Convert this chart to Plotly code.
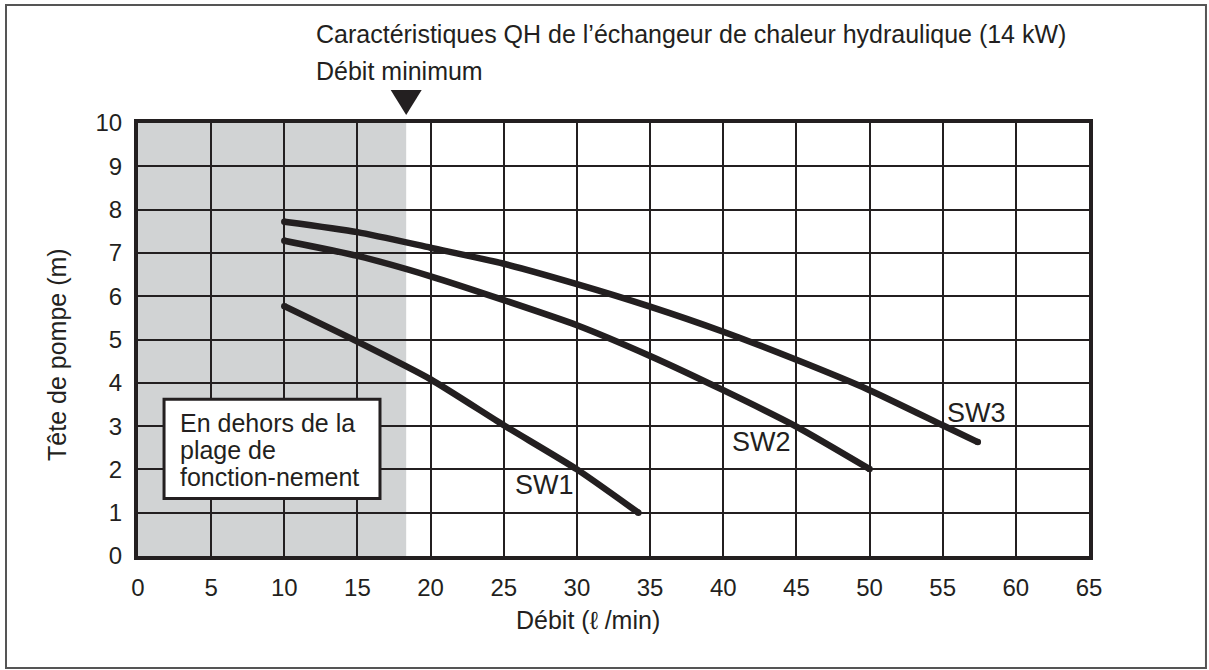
import plotly.graph_objects as go

# ---- data ----
sw1_x = [10, 15, 20, 25, 30, 34.2]
sw1_y = [5.77, 4.95, 4.08, 3.02, 2.0, 1.0]
sw2_x = [10, 15, 20, 25, 30, 35, 40, 45, 50]
sw2_y = [7.28, 6.93, 6.46, 5.91, 5.33, 4.62, 3.83, 2.99, 2.01]
sw3_x = [10, 15, 20, 25, 30, 35, 40, 45, 50, 55, 57.4]
sw3_y = [7.72, 7.48, 7.12, 6.75, 6.28, 5.76, 5.18, 4.53, 3.83, 3.02, 2.63]
series_names = ["SW1", "SW2", "SW3"]
label_x = [27.75, 42.63, 57.33]
label_y = [1.64, 2.64, 3.31]
min_flow = 18.33
x_ticks = list(range(0, 66, 5))
y_ticks = list(range(0, 11, 1))

title_text = "Caractéristiques QH de l’échangeur de chaleur hydraulique (14 kW)"
min_text = "Débit minimum"
box_lines = ["En dehors de la", "plage de", "fonction-nement"]
box_line_y = [3.07, 2.45, 1.83]
x_title = "Débit (ℓ /min)"
y_title = "Tête de pompe (m)"

INK = "#231f20"
GRAY = "#d1d3d4"
FONT = "Arial, Liberation Sans, sans-serif"

fig = go.Figure()

for xs, ys in [(sw1_x, sw1_y), (sw2_x, sw2_y), (sw3_x, sw3_y)]:
    fig.add_trace(go.Scatter(
        x=xs, y=ys, mode="lines",
        line=dict(color=INK, width=6.5, shape="spline", smoothing=0.6),
        showlegend=False, hoverinfo="skip"))
    # round end caps
    fig.add_trace(go.Scatter(
        x=[xs[0], xs[-1]], y=[ys[0], ys[-1]], mode="markers",
        marker=dict(color=INK, size=6.5, line=dict(width=0)),
        showlegend=False, hoverinfo="skip"))

# gray out-of-range region
fig.add_shape(type="rect", xref="x", yref="y", x0=0, x1=min_flow, y0=0, y1=10,
              fillcolor=GRAY, line=dict(width=0), layer="below")

# minimum-flow triangle (anchored at min_flow, just above the plot)
fig.add_shape(type="path", xref="x", yref="paper",
              xsizemode="pixel", ysizemode="pixel",
              xanchor=min_flow, yanchor=1.0762,
              path="M-15.5,0 L15.5,0 L0,-25 Z",
              fillcolor=INK, line=dict(width=0))

# box
fig.add_shape(type="rect", xref="x", yref="y", x0=1.78, x1=16.54, y0=1.33, y1=3.62,
              fillcolor="white", line=dict(color=INK, width=3), layer="above")
for txt, yy in zip(box_lines, box_line_y):
    fig.add_annotation(x=2.73, y=yy, xref="x", yref="y", text=txt,
                       showarrow=False, xanchor="left", yanchor="middle", align="left",
                       font=dict(family=FONT, size=25, color=INK))

# curve labels
for name, lx, ly in zip(series_names, label_x, label_y):
    fig.add_annotation(x=lx, y=ly, xref="x", yref="y", text=name, showarrow=False,
                       xanchor="center", yanchor="middle",
                       font=dict(family=FONT, size=27, color=INK))

# title and min flow text
fig.add_annotation(x=12.0, y=1.2055, xref="x", yref="paper", text=title_text,
                   showarrow=False, xanchor="left", yanchor="middle",
                   font=dict(family=FONT, size=25, color=INK))
fig.add_annotation(x=12.0, y=1.1201, xref="x", yref="paper", text=min_text,
                   showarrow=False, xanchor="left", yanchor="middle",
                   font=dict(family=FONT, size=25, color=INK))

# axis titles
fig.add_annotation(x=30.76, y=-0.1478, xref="x", yref="paper", text=x_title,
                   showarrow=False, xanchor="center", yanchor="middle",
                   font=dict(family=FONT, size=25, color=INK))
fig.add_annotation(x=-0.0852, y=0.4665, xref="paper", yref="paper", text=y_title,
                   showarrow=False, xanchor="center", yanchor="middle", textangle=-90,
                   font=dict(family=FONT, size=25, color=INK))

# outer frame
fig.add_shape(type="rect", xref="paper", yref="paper",
              x0=-0.1388, x1=1.1230, y0=-0.2587, y1=1.2725,
              line=dict(color="#555555", width=2), fillcolor="rgba(0,0,0,0)")

fig.update_xaxes(range=[0, 65], tickvals=x_ticks, ticktext=[str(v) for v in x_ticks],
                 showgrid=True, gridcolor=INK, gridwidth=2, zeroline=False,
                 showline=True, linecolor=INK, linewidth=4, mirror=True,
                 ticks="", ticklabelstandoff=7,
                 tickfont=dict(family=FONT, size=24, color=INK))
fig.update_yaxes(range=[0, 10], tickvals=y_ticks, ticktext=[str(v) for v in y_ticks],
                 showgrid=True, gridcolor=INK, gridwidth=2, zeroline=False,
                 showline=True, linecolor=INK, linewidth=4, mirror=True,
                 ticks="", ticklabelstandoff=7,
                 tickfont=dict(family=FONT, size=24, color=INK))

fig.update_layout(
    width=1209, height=670,
    margin=dict(l=138, r=120, t=123, b=114),
    paper_bgcolor="white", plot_bgcolor="white",
    font=dict(family=FONT, color=INK),
)

fig.write_html("out.html")
